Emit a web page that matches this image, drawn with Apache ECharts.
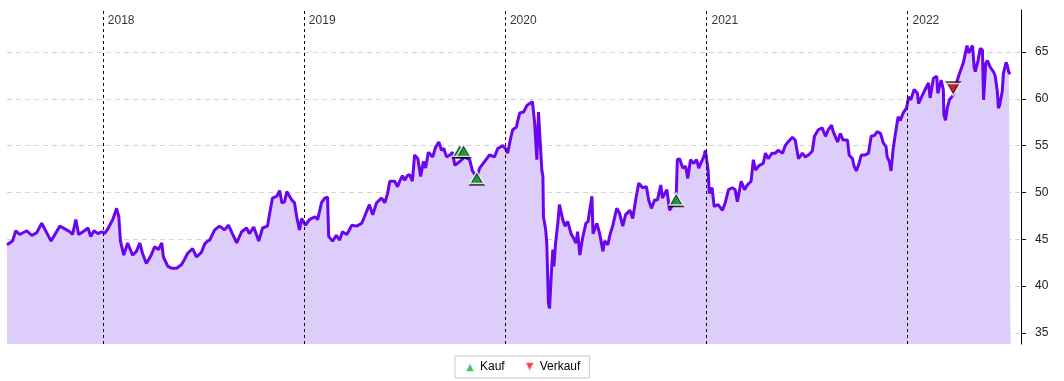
<!DOCTYPE html>
<html>
<head>
<meta charset="utf-8">
<script src="https://cdn.jsdelivr.net/npm/echarts@6/dist/echarts.min.js"></script>
<style>
html,body{margin:0;padding:0;background:#fff;}
#chart{width:1064px;height:381px;}
</style>
</head>
<body>
<div id="chart"></div>
<script>
// ---- data ----
const dates = [
'2017-07-11','2017-07-21','2017-07-27','2017-08-03','2017-08-16','2017-08-25','2017-09-03','2017-09-12','2017-09-21','2017-09-29',
'2017-10-06','2017-10-15','2017-10-24','2017-11-02','2017-11-07','2017-11-13','2017-11-18','2017-11-26','2017-12-05','2017-12-10',
'2017-12-16','2017-12-23','2017-12-30',
'2018-01-04','2018-01-10','2018-01-19','2018-01-26','2018-01-30','2018-02-02','2018-02-08','2018-02-15','2018-02-24','2018-03-03',
'2018-03-09','2018-03-14','2018-03-21','2018-03-29','2018-04-05','2018-04-12','2018-04-18','2018-04-21','2018-04-29','2018-05-06',
'2018-05-15','2018-05-24','2018-05-29','2018-06-04','2018-06-13','2018-06-20','2018-06-29','2018-07-05','2018-07-10','2018-07-14',
'2018-07-23','2018-08-01','2018-08-10','2018-08-17','2018-08-25','2018-09-01','2018-09-10','2018-09-19','2018-09-24','2018-10-02',
'2018-10-11','2018-10-18','2018-10-27','2018-10-31','2018-11-05','2018-11-13','2018-11-18','2018-11-22','2018-11-27','2018-12-01',
'2018-12-10','2018-12-15','2018-12-19','2018-12-24','2018-12-28',
'2019-01-04','2019-01-11','2019-01-21','2019-01-26','2019-02-02','2019-02-08','2019-02-13','2019-02-15','2019-02-22','2019-03-01',
'2019-03-07','2019-03-12','2019-03-20','2019-03-29','2019-04-07','2019-04-16','2019-04-21','2019-04-30','2019-05-06','2019-05-13',
'2019-05-22','2019-05-28','2019-06-02','2019-06-06','2019-06-15','2019-06-20','2019-06-24','2019-06-29','2019-07-03','2019-07-08',
'2019-07-12','2019-07-17','2019-07-21','2019-07-27','2019-08-01','2019-08-06','2019-08-10','2019-08-15','2019-08-23','2019-08-28',
'2019-09-03','2019-09-08','2019-09-12','2019-09-17','2019-09-23','2019-09-28','2019-10-02','2019-10-11','2019-10-20','2019-10-29',
'2019-11-03','2019-11-11','2019-11-16','2019-11-25','2019-12-04','2019-12-13','2019-12-19','2019-12-28',
'2020-01-02','2020-01-06','2020-01-10','2020-01-15','2020-01-22','2020-01-24','2020-01-28','2020-02-04','2020-02-10','2020-02-15',
'2020-02-20','2020-02-24','2020-02-28','2020-03-02','2020-03-08','2020-03-10','2020-03-11','2020-03-15','2020-03-17','2020-03-20',
'2020-03-22','2020-03-26','2020-03-28','2020-03-30','2020-04-02','2020-04-06','2020-04-09','2020-04-15','2020-04-19','2020-04-24',
'2020-04-30','2020-05-03','2020-05-09','2020-05-12','2020-05-16','2020-05-21','2020-05-27','2020-05-31','2020-06-03','2020-06-07',
'2020-06-09','2020-06-16','2020-06-21','2020-06-27','2020-06-30','2020-07-06','2020-07-09','2020-07-15','2020-07-22','2020-07-27',
'2020-08-02','2020-08-07','2020-08-15','2020-08-20','2020-08-26','2020-08-31','2020-09-07','2020-09-14','2020-09-18','2020-09-23',
'2020-09-29','2020-10-04','2020-10-10','2020-10-13','2020-10-21','2020-10-26','2020-11-01','2020-11-07','2020-11-09','2020-11-13',
'2020-11-19','2020-11-24','2020-11-28','2020-12-03','2020-12-09','2020-12-14','2020-12-18','2020-12-23','2020-12-27','2020-12-30',
'2021-01-04','2021-01-06','2021-01-11','2021-01-15','2021-01-22','2021-01-30','2021-02-04','2021-02-10','2021-02-17','2021-02-22',
'2021-02-26','2021-03-05','2021-03-11','2021-03-16','2021-03-23','2021-03-27','2021-03-31','2021-04-07','2021-04-14','2021-04-18',
'2021-04-23','2021-04-30','2021-05-06','2021-05-11','2021-05-19','2021-05-24','2021-05-29','2021-06-06','2021-06-11','2021-06-17',
'2021-06-24','2021-06-29','2021-07-05','2021-07-12','2021-07-16','2021-07-23','2021-07-30','2021-08-05','2021-08-10','2021-08-16',
'2021-08-19','2021-08-27','2021-09-01','2021-09-06','2021-09-14','2021-09-17','2021-09-23','2021-09-26','2021-09-30','2021-10-04',
'2021-10-09','2021-10-16','2021-10-22','2021-10-27','2021-11-02','2021-11-07','2021-11-13','2021-11-18','2021-11-23','2021-11-25',
'2021-11-29','2021-12-02','2021-12-06','2021-12-10','2021-12-13','2021-12-15','2021-12-19','2021-12-24','2021-12-30',
'2022-01-03','2022-01-07','2022-01-13','2022-01-19','2022-01-21','2022-01-28','2022-02-02','2022-02-08','2022-02-11','2022-02-17',
'2022-02-23','2022-02-25','2022-03-03','2022-03-07','2022-03-08','2022-03-11','2022-03-14','2022-03-18','2022-03-25','2022-03-29',
'2022-04-04','2022-04-07','2022-04-12','2022-04-15','2022-04-19','2022-04-22','2022-04-29','2022-05-02','2022-05-04','2022-05-09',
'2022-05-13','2022-05-17','2022-05-19','2022-05-23','2022-05-26','2022-05-31','2022-06-06','2022-06-09','2022-06-13','2022-06-15',
'2022-06-17','2022-06-22','2022-06-24','2022-06-29','2022-07-01','2022-07-04','2022-07-07'
];
const prices = [
44.4,44.8,45.9,45.5,45.9,45.4,45.7,46.7,45.7,44.8,
45.5,46.4,46.1,45.8,45.5,47.1,45.5,45.8,46.2,45.3,
45.9,45.6,45.8,
45.6,46.1,47.1,48.3,47.4,44.8,43.3,44.6,43.3,43.7,
44.6,43.5,42.4,43.2,44.2,43.9,44.6,43.1,42.1,41.9,
41.9,42.3,42.8,43.5,44.0,43.1,43.6,44.5,44.8,44.9,
46.0,46.4,46.0,46.5,45.5,44.6,45.8,46.2,45.6,46.3,
44.8,46.2,46.4,47.8,49.4,49.6,50.2,48.9,49.0,50.1,
49.2,48.9,47.4,46.0,47.2,
46.5,47.1,47.4,47.1,48.9,49.4,49.5,45.3,44.8,45.4,
44.9,45.8,45.5,46.5,46.4,46.7,47.4,48.7,47.6,48.9,
49.4,48.9,49.9,51.2,51.2,50.6,51.2,51.8,51.3,51.8,
51.9,51.2,54.0,53.6,51.7,53.3,52.6,54.3,53.8,54.8,
55.4,54.5,54.7,53.8,54.0,54.3,52.9,53.3,53.8,53.5,
52.3,51.6,52.6,53.3,54.0,53.8,54.7,55.0,
54.7,54.2,55.4,56.7,57.0,57.6,58.5,58.6,59.3,59.5,
59.7,57.4,53.5,58.6,52.4,51.7,47.4,46.0,44.6,38.2,
37.6,42.1,43.9,42.1,44.6,46.7,48.7,47.1,46.4,46.9,
45.6,45.3,44.6,45.8,43.3,45.1,46.7,46.9,48.1,49.6,
45.6,46.7,45.6,43.7,44.8,44.4,45.3,46.5,48.3,47.8,
46.4,47.6,48.1,47.2,49.4,51.0,50.5,50.6,49.2,48.3,
49.2,49.2,50.8,49.4,50.3,48.1,48.7,49.6,53.5,53.6,
52.6,52.8,51.5,53.5,53.1,53.5,52.6,53.3,53.8,54.5,
52.4,49.9,50.5,48.5,48.7,48.1,48.9,50.3,50.5,50.3,
49.0,51.2,50.3,50.8,51.2,53.5,52.4,52.9,53.1,54.2,
53.6,54.2,54.2,54.5,54.2,55.0,55.4,55.9,55.6,53.6,
54.2,53.8,54.0,54.4,56.0,56.7,56.9,56.0,56.7,57.2,
56.5,55.4,56.3,55.6,55.6,54.0,53.6,52.8,52.3,52.9,
54.0,54.0,54.2,56.0,56.1,56.5,56.3,55.3,54.9,53.8,
53.3,52.3,54.7,56.3,57.4,58.1,57.7,58.5,59.0,
60.2,59.9,61.0,60.6,59.5,60.4,61.0,61.7,60.1,62.2,
62.4,60.6,62.0,61.0,58.3,57.7,59.0,59.9,60.4,61.3,
62.5,62.7,63.8,64.6,65.7,64.9,65.7,63.4,62.9,64.1,
65.4,65.2,59.9,63.8,64.1,63.4,62.9,62.5,60.8,59.0,
59.3,60.8,62.7,63.9,63.6,62.8,62.7
];
const buyDates = ['2019-10-11','2019-10-18','2019-11-11','2020-11-07'];
const buyPrices = [54.5,54.5,51.6,49.3];
const sellDates = ['2022-03-25'];
const sellPrices = [61.0];
const yearStarts = ['2018-01-01','2019-01-01','2020-01-01','2021-01-01','2022-01-01'];
const yearLabels = ['2018','2019','2020','2021','2022'];
const yTicks = [35,40,45,50,55,60,65];
const xMin = '2017-07-11', xMax = '2022-07-26';
const yMin = 33.8, yMax = 69.5;

// ---- chart ----
const chart = echarts.init(document.getElementById('chart'), null, {renderer:'canvas'});
const font = 'Liberation Sans, Arial, Helvetica, sans-serif';
const option = {
  animation: false,
  textStyle: {fontFamily: font},
  grid: {left: 7, right: 43, top: 10, bottom: 37},
  legend: {
    bottom: 3, left: 455,
    data: [
      {name: 'Kauf', icon: 'path://M5,0L10,10L0,10Z'},
      {name: 'Verkauf', icon: 'path://M0,0L10,0L5,10Z'}
    ],
    borderColor: '#c8c8c8', borderWidth: 1, borderRadius: 0,
    padding: [5, 9, 5, 9],
    itemWidth: 10, itemHeight: 10, itemGap: 19,
    textStyle: {fontSize: 12, color: '#000', fontFamily: font}
  },
  xAxis: {
    type: 'time', min: xMin, max: xMax,
    axisLine: {show: false}, axisTick: {show: false},
    axisLabel: {show: false}, splitLine: {show: false}
  },
  yAxis: {
    type: 'value', position: 'right', min: yMin, max: yMax,
    axisLine: {show: true, lineStyle: {color: '#000', width: 1}},
    axisTick: {show: true, length: 5, customValues: yTicks, lineStyle: {color: '#000'}},
    axisLabel: {customValues: yTicks, margin: 14, color: '#222', fontSize: 12, fontFamily: font},
    splitLine: {show: true, lineStyle: {color: '#d4d4d4', type: [5, 4], width: 1}}
  },
  series: [
    {
      name: 'Kurs', type: 'line',
      data: dates.map((d, i) => [d, prices[i]]),
      showSymbol: false, symbol: 'none',
      lineStyle: {color: '#6b04f1', width: 3},
      areaStyle: {color: '#ddcdfa', origin: 'start', opacity: 1},
      z: 2,
      markLine: {
        silent: true, symbol: 'none',
        lineStyle: {color: '#000', type: [3, 3], width: 1},
        label: {show: false},
        data: yearStarts.map(d => ({xAxis: d}))
      }
    },
    {
      name: 'years', type: 'scatter',
      data: yearStarts.map((d, i) => ({value: [d, yMax], name: yearLabels[i]})),
      symbolSize: 0, silent: true,
      label: {show: true, formatter: p => p.name, position: [5, 5], color: '#000', fontSize: 12, fontFamily: font}
    },
    {
      name: 'Kauf', type: 'scatter',
      data: buyDates.map((d, i) => [d, buyPrices[i]]),
      symbol: 'triangle', symbolSize: [14, 12],
      itemStyle: {color: '#19b33c', borderColor: '#fff', borderWidth: 1.5,
        shadowColor: 'rgba(0,0,0,0.9)', shadowOffsetY: 1.5, shadowBlur: 0},
      z: 5
    },
    {
      name: 'Verkauf', type: 'scatter',
      data: sellDates.map((d, i) => [d, sellPrices[i]]),
      symbol: 'triangle', symbolRotate: 180, symbolSize: [14, 12],
      itemStyle: {color: '#f0142e', borderColor: '#fff', borderWidth: 1.5,
        shadowColor: 'rgba(0,0,0,0.9)', shadowOffsetY: -1.5, shadowBlur: 0},
      z: 5
    }
  ]
};
chart.setOption(option);
</script>
</body>
</html>
